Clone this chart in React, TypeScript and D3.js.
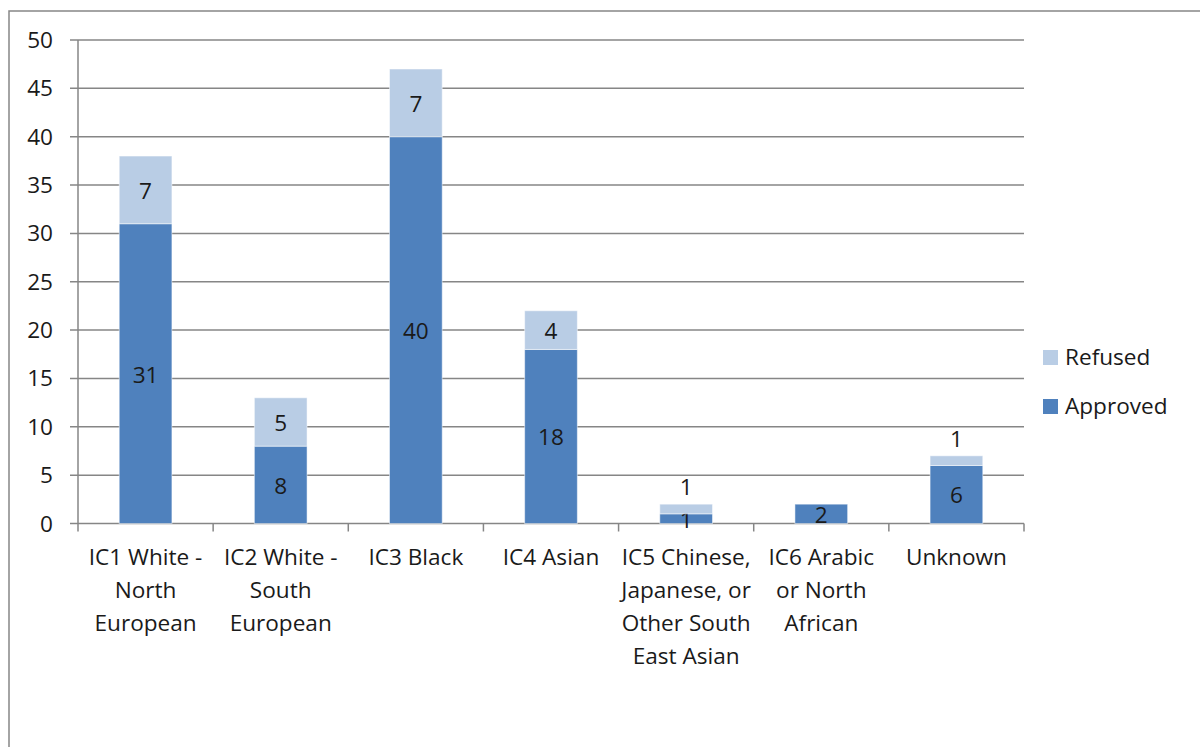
import React from "react";
import * as d3 from "d3";

// Category names; "\n" marks where each label wraps.
const categories: string[] = [
  "IC1 White -\nNorth\nEuropean",
  "IC2 White -\nSouth\nEuropean",
  "IC3 Black",
  "IC4 Asian",
  "IC5 Chinese,\nJapanese, or\nOther South\nEast Asian",
  "IC6 Arabic\nor North\nAfrican",
  "Unknown",
];
const approved: number[] = [31, 8, 40, 18, 1, 2, 6];
const refused: number[] = [7, 5, 7, 4, 1, 0, 1];
const yTicks: number[] = [0, 5, 10, 15, 20, 25, 30, 35, 40, 45, 50];

const seriesNames = ["Approved", "Refused"];
const colors: Record<string, string> = { Approved: "#4F81BD", Refused: "#B9CDE5" };

const W = 1200;
const H = 747;
const FONT = "'Open Sans', 'Noto Sans', sans-serif";
const GRID = "#868686";
const FS = 22.6;

export default function App() {
  const x = d3.scaleBand<string>().domain(categories).range([78, 1024]).paddingInner(0.61).paddingOuter(0.305);
  const y = d3.scaleLinear().domain([0, 50]).range([523.5, 40]);
  const band = d3.scaleBand<string>().domain(categories).range([78, 1024]);

  const rows = categories.map((c, i) => ({ cat: c, Approved: approved[i], Refused: refused[i] }));
  const stacked = d3.stack<any>().keys(seriesNames)(rows);

  return (
    <svg width={W} height={H} style={{ position: "absolute", left: 0, top: 0, background: "#fff" }} fontFamily={FONT}>
      <rect x={0} y={0} width={W} height={H} fill="#fff" />
      {/* chart frame */}
      <rect x={9} y={11} width={W + 20} height={H + 20} fill="none" stroke={GRID} strokeWidth={1.5} />

      {/* gridlines and y ticks */}
      {yTicks.map((t) => (
        <g key={t}>
          <line x1={70} x2={1024} y1={y(t)} y2={y(t)} stroke={GRID} strokeWidth={1.5} />
          <text x={53} y={y(t) + 8} textAnchor="end" fontSize={FS} fill="#1a1a1a">
            {t}
          </text>
        </g>
      ))}
      <line x1={78} x2={78} y1={y(50)} y2={y(0)} stroke={GRID} strokeWidth={1.5} />

      {/* category ticks */}
      {[...categories.map((c) => band(c)!), 1024].map((px, i) => (
        <line key={i} x1={px} x2={px} y1={y(0)} y2={y(0) + 8} stroke={GRID} strokeWidth={1.5} />
      ))}

      {/* bars */}
      {stacked.map((s) => (
        <g key={s.key}>
          {s.map((d, i) => {
            const v = d[1] - d[0];
            if (v <= 0) return null;
            const cat = categories[i];
            const top = y(d[1]);
            const bot = y(d[0]);
            const h = bot - top;
            const cx = x(cat)! + x.bandwidth() / 2;
            const above = s.key === "Refused" && h < 20;
            const ly = above ? top - 9 : (top + bot) / 2 + 9;
            return (
              <g key={i}>
                <rect x={x(cat)!} y={top} width={x.bandwidth()} height={h} fill={colors[s.key]} stroke="#ffffff" strokeOpacity={0.5} strokeWidth={1} />
                <text x={cx} y={ly} textAnchor="middle" fontSize={FS} fill="#1a1a1a">
                  {v}
                </text>
              </g>
            );
          })}
        </g>
      ))}

      {/* category labels */}
      {categories.map((c) => (
        <text key={c} x={band(c)! + band.bandwidth() / 2} y={565} textAnchor="middle" fontSize={FS} fill="#1a1a1a">
          {c.split("\n").map((line, j) => (
            <tspan key={j} x={band(c)! + band.bandwidth() / 2} dy={j === 0 ? 0 : 33}>
              {line}
            </tspan>
          ))}
        </text>
      ))}

      {/* legend */}
      {["Refused", "Approved"].map((k, i) => (
        <g key={k} transform={`translate(1043, ${350 + i * 49})`}>
          <rect x={0} y={0} width={15} height={15} fill={colors[k]} />
          <text x={22} y={15} fontSize={FS} fill="#1a1a1a">
            {k}
          </text>
        </g>
      ))}
    </svg>
  );
}
